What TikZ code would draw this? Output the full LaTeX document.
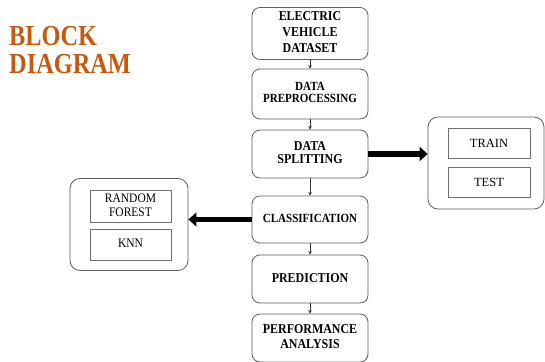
\documentclass[tikz,border=0pt]{standalone}
\usepackage{fontspec}
\setmainfont{Liberation Serif}
\usetikzlibrary{arrows.meta}
\definecolor{titleorange}{HTML}{C55A11}
\definecolor{boxgray}{HTML}{606060}
\definecolor{innergray}{HTML}{707070}
\newcommand{\vst}[1]{\scalebox{0.92}[1.04]{\begin{tabular}{@{}c@{}}#1\end{tabular}}}
\tikzset{
  mainbox/.style={draw=boxgray, line width=0.8pt, rounded corners=8pt,
    minimum width=116pt, inner sep=2pt, align=center,
    font=\bfseries\fontsize{13}{15.8}\selectfont},
  groupbox/.style={draw=boxgray, line width=0.8pt, rounded corners=10pt, inner sep=0pt},
  innerbox/.style={draw=innergray, line width=0.8pt, inner sep=1pt, align=center,
    font=\fontsize{12.5}{15}\selectfont},
  smallarrow/.style={draw=black!80, line width=0.6pt, -{Stealth[length=3.5pt,width=3.5pt]}},
  bigarrow/.style={draw=black, -{Triangle[length=8pt,width=14pt]}},
  titletext/.style={text=titleorange, font=\bfseries\fontsize{29}{33}\selectfont, inner sep=0pt, anchor=base west}
}
\begin{document}
\begin{tikzpicture}[x=1pt,y=-1pt]
\useasboundingbox (0,0) rectangle (545,361);
\fill[white] (0,0) rectangle (545,361);

\node[titletext] (t1) at (9,45.5) {\scalebox{0.84}[1]{BLOCK}};
\node[titletext] (t2) at (9,73) {\scalebox{0.84}[1]{DIAGRAM}};

\node[mainbox, minimum height=50pt] (b1) at (310,33.5) {\vst{ELECTRIC\\[-0.6pt]VEHICLE\\[-0.6pt]DATASET}};
\node[mainbox, minimum height=50pt, font=\bfseries\fontsize{12}{13}\selectfont] (b2) at (310,94) {\vst{DATA\\[-1.5pt]PREPROCESSING}};
\node[mainbox, minimum height=48pt, font=\bfseries\fontsize{13}{14.3}\selectfont] (b3) at (310,154) {\vst{DATA\\[-1pt]SPLITTING}};
\node[mainbox, minimum height=47pt, font=\bfseries\fontsize{12}{14}\selectfont] (b4) at (310,219.5) {\vst{CLASSIFICATION}};
\node[mainbox, minimum height=48pt, font=\bfseries\fontsize{13}{15}\selectfont] (b5) at (310,279) {\vst{PREDICTION}};
\node[mainbox, minimum height=48pt, font=\bfseries\fontsize{13}{15.3}\selectfont] (b6) at (310,338) {\vst{PERFORMANCE\\[-0.8pt]ANALYSIS}};

\node[groupbox, minimum width=116pt, minimum height=92pt] (rg) at (486,163) {};
\node[innerbox, minimum width=82pt, minimum height=30pt] (train) at (489,143) {TRAIN};
\node[innerbox, minimum width=82pt, minimum height=30pt] (test) at (489,182) {TEST};

\node[groupbox, minimum width=118pt, minimum height=92pt] (lg) at (129,224.5) {};
\node[innerbox, minimum width=81pt, minimum height=31pt] (rf) at (130.5,206.5) {\vst{RANDOM\\[-1pt]FOREST}};
\node[innerbox, minimum width=81pt, minimum height=31pt] (knn) at (130.5,244.5) {\vst{KNN}};

\draw[smallarrow] (b1) -- (b2);
\draw[smallarrow] (b2) -- (b3);
\draw[smallarrow] (b3) -- (b4);
\draw[smallarrow] (b4) -- (b5);
\draw[smallarrow] (b5) -- (b6);

\draw[bigarrow, line width=6pt] (b3.east) -- (b3.east -| rg.west);
\draw[bigarrow, line width=5pt] (b4.west) -- (b4.west -| lg.east);
\end{tikzpicture}
\end{document}
